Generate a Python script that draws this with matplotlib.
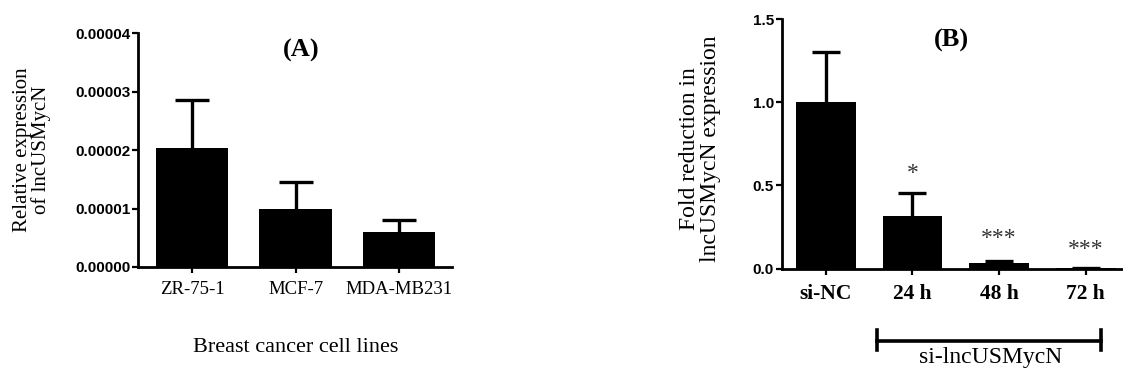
"""Two-panel bar chart: lncUSMycN expression (A) and knockdown (B)."""
import matplotlib
matplotlib.use("Agg")
import matplotlib.pyplot as plt
import matplotlib.transforms as mtransforms
from matplotlib.ticker import FormatStrFormatter

# panel A data
cell_lines = ["ZR-75-1", "MCF-7", "MDA-MB231"]
rel_expr = [0.0000204, 0.0000099, 0.0000059]
rel_err = [0.0000082, 0.0000046, 0.0000021]
a_yticks = [0.0, 0.00001, 0.00002, 0.00003, 0.00004]

# panel B data
conditions = ["si-NC", "24 h", "48 h", "72 h"]
fold = [1.0, 0.318, 0.032, 0.004]
fold_err = [0.30, 0.136, 0.013, 0.002]
stars = ["", "*", "***", "***"]
star_y = [None, 0.57, 0.18, 0.115]
b_yticks = [0.0, 0.5, 1.0, 1.5]

W, H = 1123, 379
SERIF = "Liberation Serif"
SANS = "Liberation Sans"

fig = plt.figure(figsize=(W / 100, H / 100), dpi=100)


def px_axes(left, top, right, bottom):
    return fig.add_axes([left / W, 1 - bottom / H, (right - left) / W, (bottom - top) / H])


def style_axes(ax):
    for side in ("top", "right"):
        ax.spines[side].set_visible(False)
    for side in ("left", "bottom"):
        ax.spines[side].set_linewidth(2.0)
    ax.tick_params(axis="both", direction="out", length=4, width=1.6)
    ax.tick_params(axis="y", pad=1.5)
    for lbl in ax.get_yticklabels():
        lbl.set_fontfamily(SANS)
        lbl.set_fontweight("bold")
        lbl.set_fontsize(11)


def upper_errorbars(ax, x, y, err, capsize):
    _, caps, _ = ax.errorbar(x, y, yerr=[[0] * len(err), err], fmt="none",
                             ecolor="black", elinewidth=2.4, capsize=capsize,
                             capthick=2.4, zorder=1)
    # drop the lower caps, which would sit on top of the bars
    caps[0].set_visible(False)


# ---- panel A ----
axA = px_axes(138, 33, 452, 267)
xa = range(len(cell_lines))
axA.bar(xa, rel_expr, width=0.7, color="black", zorder=2)
upper_errorbars(axA, xa, rel_expr, rel_err, 12)
axA.set_xlim(-0.52, 2.51)
axA.set_ylim(0, 0.00004)
axA.set_yticks(a_yticks)
axA.yaxis.set_major_formatter(FormatStrFormatter("%.5f"))
axA.set_xticks(list(xa))
axA.set_xticklabels(cell_lines, fontfamily=SERIF, fontsize=13.5)
style_axes(axA)
axA.tick_params(axis="x", pad=6)
axA.text(0.52, 0.975, "(A)", transform=axA.transAxes, ha="center", va="top",
         fontfamily=SERIF, fontweight="bold", fontsize=19)

fig.text(32 / W, 1 - 150 / H, "Relative expression\nof lncUSMycN", rotation=90,
         ha="center", va="center", multialignment="center", linespacing=0.95,
         fontfamily=SERIF, fontsize=15)
fig.text(296 / W, 1 - 348 / H, "Breast cancer cell lines", ha="center", va="center",
         fontfamily=SERIF, fontsize=16)

# ---- panel B ----
axB = px_axes(781.7, 19, 1122, 268.5)
xb = range(len(conditions))
axB.bar(xb, fold, width=0.69, color="black", zorder=2)
upper_errorbars(axB, xb, fold, fold_err, 10)
for xi, s, sy in zip(xb, stars, star_y):
    if s:
        axB.text(xi, sy, s, ha="center", va="center", fontfamily=SERIF,
                 fontsize=17, color="#333333")
axB.set_xlim(-0.51, 3.42)
axB.set_ylim(0, 1.5)
axB.set_yticks(b_yticks)
axB.yaxis.set_major_formatter(FormatStrFormatter("%.1f"))
axB.set_xticks(list(xb))
axB.set_xticklabels(conditions, fontfamily=SERIF, fontweight="bold", fontsize=15.5)
style_axes(axB)
axB.tick_params(axis="x", pad=7)
axB.text(0.50, 0.96, "(B)", transform=axB.transAxes, ha="center", va="top",
         fontfamily=SERIF, fontweight="bold", fontsize=19)

fig.text(700 / W, 1 - 149 / H, "Fold reduction in\nlncUSMycN expression", rotation=90,
         ha="center", va="center", multialignment="center", linespacing=1.0,
         fontfamily=SERIF, fontsize=17)

# bracket under the si-lncUSMycN groups
trans = mtransforms.blended_transform_factory(axB.transData, axB.transAxes)
x0, x1 = 0.585, 3.18
yb = -0.289
axB.plot([x0, x1], [yb, yb], color="black", lw=2.6, transform=trans, clip_on=False)
for xe in (x0, x1):
    axB.plot([xe, xe], [yb - 0.038, yb + 0.042], color="black", lw=2.6,
             transform=trans, clip_on=False)
fig.text(991 / W, 1 - 358 / H, "si-lncUSMycN", ha="center", va="center",
         fontfamily=SERIF, fontsize=17)

fig.savefig("out.png", dpi=100)
